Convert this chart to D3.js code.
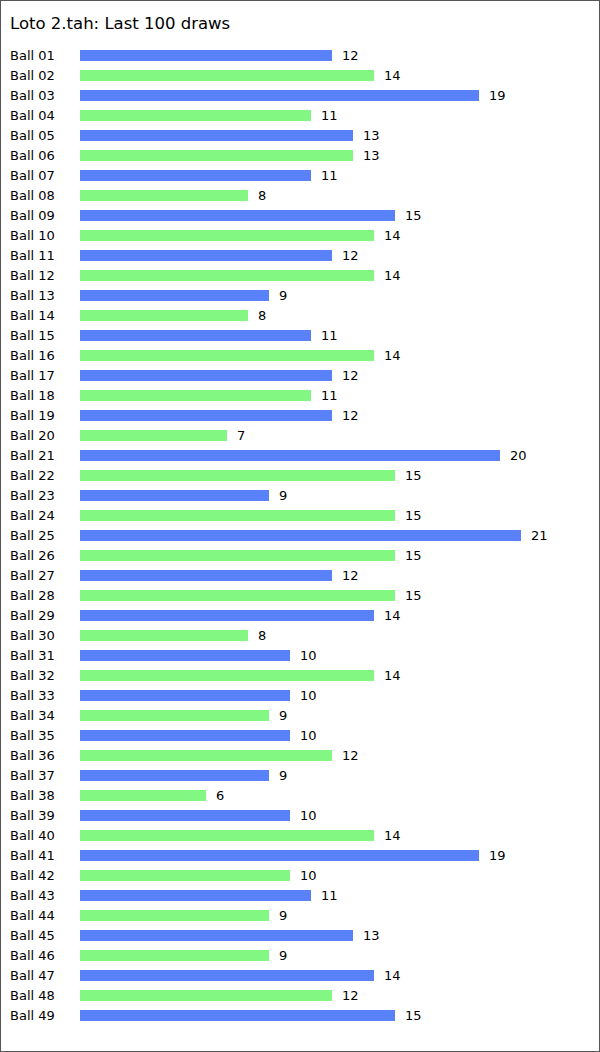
<!DOCTYPE html>
<html>
<head>
<meta charset="utf-8">
<script src="https://cdn.jsdelivr.net/npm/d3@7"></script>
<style>
  html, body { margin: 0; padding: 0; background: #fff; }
  svg { display: block; }
</style>
</head>
<body>
<div id="chart"></div>
<script>
// chart data
const title = "Loto 2.tah: Last 100 draws";
const balls = d3.range(1, 50).map(n => "Ball " + String(n).padStart(2, "0"));
const counts = [12, 14, 19, 11, 13, 13, 11, 8, 15, 14,
                12, 14, 9, 8, 11, 14, 12, 11, 12, 7,
                20, 15, 9, 15, 21, 15, 12, 15, 14, 8,
                10, 14, 10, 9, 10, 12, 9, 6, 10, 14,
                19, 10, 11, 9, 13, 9, 14, 12, 15];
const colors = ["#5a82f8", "#82f882"];

const width = 600;
const height = 1052;

const svg = d3.select("#chart")
  .append("svg")
  .attr("width", width)
  .attr("height", height)
  .attr("font-family", "DejaVu Sans, Verdana, sans-serif");

// frame
svg.append("rect")
  .attr("x", 0.5)
  .attr("y", 0.5)
  .attr("width", width - 1)
  .attr("height", height - 1)
  .attr("fill", "#fff")
  .attr("stroke", "#555");

svg.append("text")
  .attr("x", 10)
  .attr("y", 29)
  .attr("font-size", 16.5)
  .attr("fill", "#000")
  .text(title);

const x = d3.scaleLinear()
  .domain([0, 21])
  .range([80, 521]);

const y = d3.scaleBand()
  .domain(balls)
  .range([45.5, 1025.5])
  .paddingInner(0.45)
  .paddingOuter(0.225);

const rows = svg.append("g")
  .selectAll("g")
  .data(balls.map((b, i) => ({ name: b, value: counts[i], i: i })))
  .join("g");

rows.append("rect")
  .attr("x", x(0))
  .attr("y", d => y(d.name))
  .attr("width", d => x(d.value) - x(0))
  .attr("height", y.bandwidth())
  .attr("fill", d => colors[d.i % 2]);

rows.append("text")
  .attr("x", 10)
  .attr("y", d => y(d.name) + y.bandwidth() / 2)
  .attr("dy", "0.35em")
  .attr("font-size", 13)
  .text(d => d.name);

rows.append("text")
  .attr("x", d => x(d.value) + 10)
  .attr("y", d => y(d.name) + y.bandwidth() / 2)
  .attr("dy", "0.35em")
  .attr("font-size", 13)
  .text(d => d.value);
</script>
</body>
</html>
